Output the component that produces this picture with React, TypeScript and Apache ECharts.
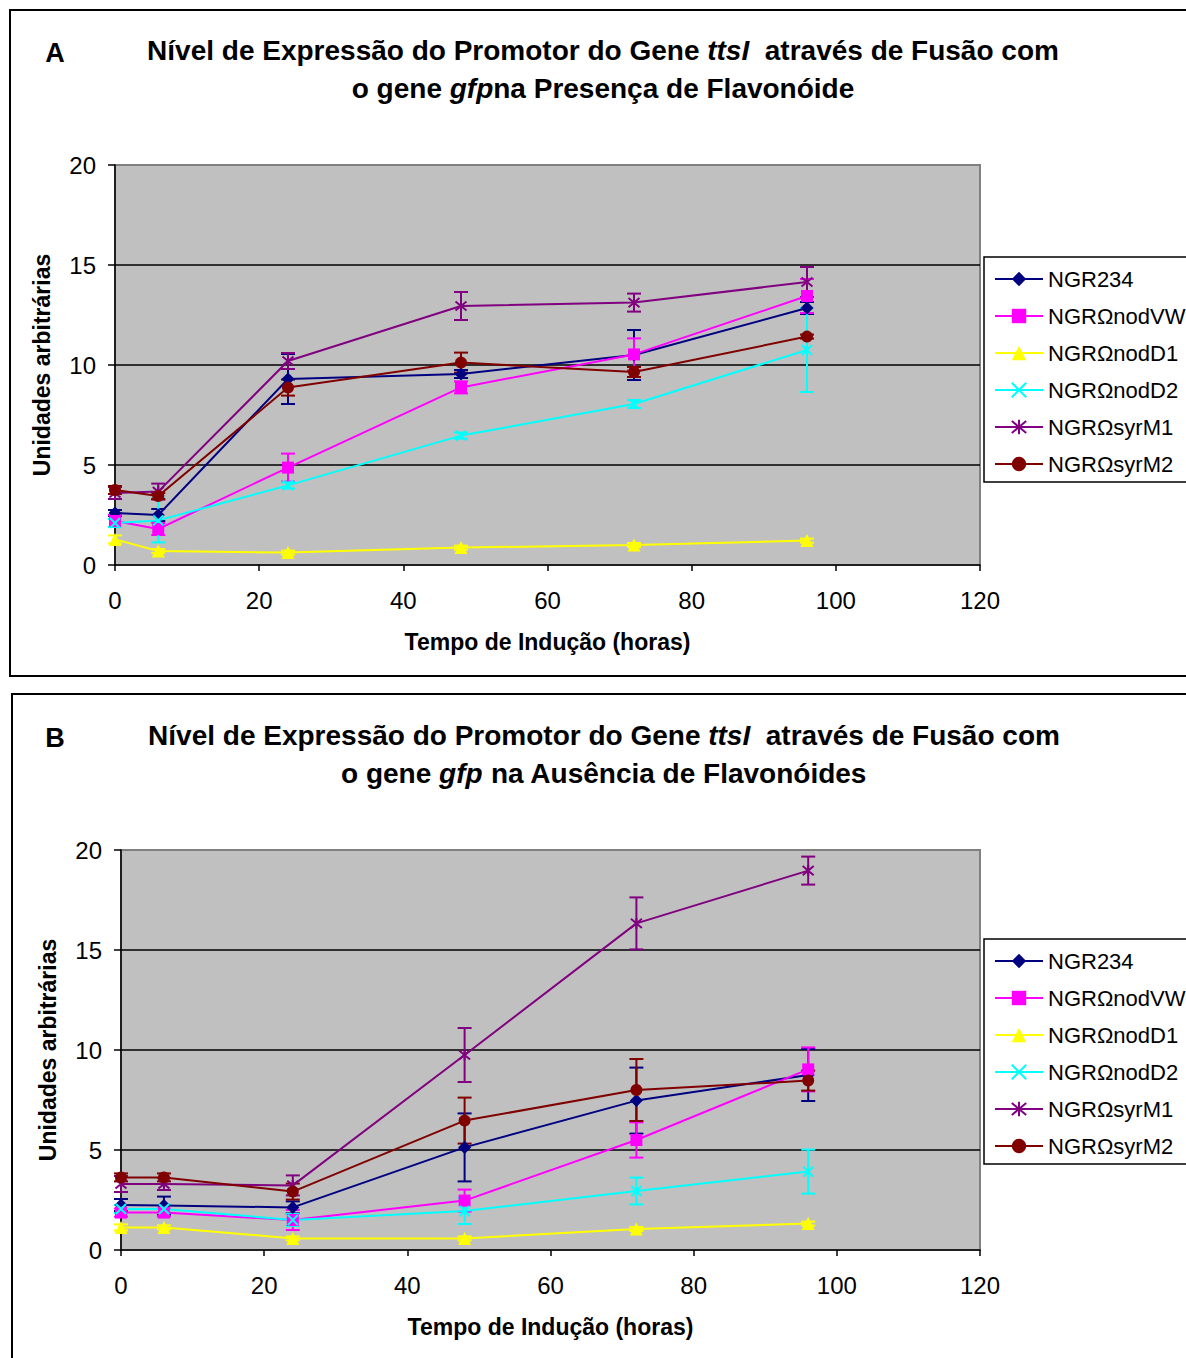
import React, { useEffect, useRef } from "react";
import * as echarts from "echarts";

const times = [0, 6, 24, 48, 72, 96];
const seriesNames = ["NGR234", "NGRΩnodVW", "NGRΩnodD1", "NGRΩnodD2", "NGRΩsyrM1", "NGRΩsyrM2"];

// Panel A (with flavonoid)
const a_ngr234 = [2.6, 2.5, 9.3, 9.55, 10.5, 12.85];
const a_nodVW = [2.2, 1.8, 4.87, 8.88, 10.53, 13.45];
const a_nodD1 = [1.28, 0.7, 0.62, 0.87, 1.0, 1.22];
const a_nodD2 = [2.1, 2.23, 3.98, 6.47, 8.05, 10.75];
const a_syrM1 = [3.6, 3.67, 10.2, 12.95, 13.12, 14.15];
const a_syrM2 = [3.75, 3.45, 8.87, 10.12, 9.65, 11.42];
const a_err_ngr234 = [0.15, 0.3, 1.25, 0.2, 1.25, 0.3];
const a_err_nodVW = [0.3, 0.3, 0.7, 0.3, 0.8, 0.85];
const a_err_nodD1 = [0.2, 0.1, 0.1, 0.1, 0.1, 0.1];
const a_err_nodD2 = [0.2, 1.1, 0.15, 0.15, 0.2, 2.1];
const a_err_syrM1 = [0.3, 0.4, 0.4, 0.7, 0.45, 0.75];
const a_err_syrM2 = [0.2, 0.15, 0.4, 0.5, 0.25, 0.1];

// Panel B (without flavonoid)
const b_ngr234 = [2.25, 2.22, 2.13, 5.13, 7.47, 8.75];
const b_nodVW = [1.87, 1.87, 1.5, 2.47, 5.5, 9.03];
const b_nodD1 = [1.13, 1.13, 0.58, 0.58, 1.05, 1.32];
const b_nodD2 = [2.05, 2.05, 1.5, 1.95, 2.95, 3.92];
const b_syrM1 = [3.3, 3.3, 3.23, 9.75, 16.33, 18.97];
const b_syrM2 = [3.63, 3.63, 2.92, 6.47, 8.0, 8.47];
const b_err_ngr234 = [0.3, 0.45, 0.3, 1.7, 1.65, 1.3];
const b_err_nodVW = [0.2, 0.2, 0.5, 0.55, 0.88, 1.1];
const b_err_nodD1 = [0.15, 0.1, 0.1, 0.1, 0.1, 0.1];
const b_err_nodD2 = [0.2, 0.2, 0.3, 0.65, 0.67, 1.1];
const b_err_syrM1 = [0.4, 0.3, 0.5, 1.35, 1.3, 0.7];
const b_err_syrM2 = [0.2, 0.2, 0.4, 1.15, 1.55, 0.5];

const xTicks = { min: 0, max: 120, interval: 20 };
const yTicks = { min: 0, max: 20, interval: 5 };

const colors = ["#000080", "#ff00ff", "#ffff00", "#00ffff", "#800080", "#800000"];
const symbols = [
  "diamond",
  "rect",
  "triangle",
  "path://M0,0L10,10M10,0L0,10",
  "path://M0,0L10,10M10,0L0,10M5,-1L5,11",
  "circle",
];
const symbolSizes = [13, 12, 13, 10, 11, 12];

const FONT = "'Liberation Sans', Arial, sans-serif";

export default function App() {
  const ref = useRef<HTMLDivElement>(null);

  useEffect(() => {
    if (!ref.current) return;
    const chart = echarts.init(ref.current, undefined, { renderer: "svg" });

    const panelA = [a_ngr234, a_nodVW, a_nodD1, a_nodD2, a_syrM1, a_syrM2];
    const panelAErr = [a_err_ngr234, a_err_nodVW, a_err_nodD1, a_err_nodD2, a_err_syrM1, a_err_syrM2];
    const panelB = [b_ngr234, b_nodVW, b_nodD1, b_nodD2, b_syrM1, b_syrM2];
    const panelBErr = [b_err_ngr234, b_err_nodVW, b_err_nodD1, b_err_nodD2, b_err_syrM1, b_err_syrM2];

    const series: any[] = [];
    const addPanel = (vals: number[][], errs: number[][], idx: number) => {
      vals.forEach((v, i) => {
        const color = colors[i];
        const isPath = symbols[i].startsWith("path://");
        series.push({
          type: "custom",
          xAxisIndex: idx,
          yAxisIndex: idx,
          z: 3,
          silent: true,
          encode: { x: 0, y: 1 },
          data: times.map((t, j) => [t, v[j], errs[i][j]]),
          renderItem: (params: any, api: any) => {
            const x = api.value(0);
            const y = api.value(1);
            const e = api.value(2);
            const hi = api.coord([x, y + e]);
            const lo = api.coord([x, y - e]);
            const cw = 7;
            const style = { stroke: color, lineWidth: 2, fill: "none" };
            return {
              type: "group",
              children: [
                { type: "line", shape: { x1: hi[0], y1: hi[1], x2: lo[0], y2: lo[1] }, style },
                { type: "line", shape: { x1: hi[0] - cw, y1: hi[1], x2: hi[0] + cw, y2: hi[1] }, style },
                { type: "line", shape: { x1: lo[0] - cw, y1: lo[1], x2: lo[0] + cw, y2: lo[1] }, style },
              ],
            };
          },
        });
        series.push({
          type: "line",
          name: seriesNames[i],
          xAxisIndex: idx,
          yAxisIndex: idx,
          z: 4,
          data: times.map((t, j) => [t, v[j]]),
          symbol: symbols[i],
          symbolSize: symbolSizes[i],
          showAllSymbol: true,
          lineStyle: { color, width: 2 },
          itemStyle: isPath
            ? { color, borderColor: color, borderWidth: 2 }
            : { color, borderColor: color, borderWidth: 0 },
        });
      });
    };
    addPanel(panelA, panelAErr, 0);
    addPanel(panelB, panelBErr, 1);

    const makeX = (idx: number) => ({
      type: "value",
      gridIndex: idx,
      min: xTicks.min,
      max: xTicks.max,
      interval: xTicks.interval,
      name: "Tempo de Indução (horas)",
      nameLocation: "middle",
      nameGap: 65,
      nameTextStyle: { fontFamily: FONT, fontSize: 23, fontWeight: "bold", color: "#000" },
      axisLine: { show: true, onZero: false, lineStyle: { color: "#000", width: 1.5 } },
      axisTick: { show: true, inside: false, length: 6, lineStyle: { color: "#000", width: 1.5 } },
      axisLabel: { fontFamily: FONT, fontSize: 24, color: "#000", margin: 23 },
      splitLine: { show: false },
    });
    const makeY = (idx: number) => ({
      type: "value",
      gridIndex: idx,
      min: yTicks.min,
      max: yTicks.max,
      interval: yTicks.interval,
      name: "Unidades arbitrárias",
      nameLocation: "middle",
      nameGap: 62,
      nameTextStyle: { fontFamily: FONT, fontSize: 23, fontWeight: "bold", color: "#000" },
      axisLine: { show: true, onZero: false, lineStyle: { color: "#000", width: 1.5 } },
      axisTick: { show: true, inside: false, length: 7, lineStyle: { color: "#000", width: 1.5 } },
      axisLabel: { fontFamily: FONT, fontSize: 24, color: "#000", margin: 19 },
      splitLine: { show: true, showMinLine: false, showMaxLine: false, lineStyle: { color: "#000", width: 1.5 } },
    });

    const makeLegend = (top: number) => ({
      orient: "vertical",
      left: 984,
      top,
      data: seriesNames,
      itemWidth: 48,
      itemHeight: 18,
      itemGap: 15,
      padding: [11, 10, 7, 10],
      backgroundColor: "#fff",
      borderColor: "#000",
      borderWidth: 1.5,
      borderRadius: 0,
      selectedMode: false,
      textStyle: { fontFamily: FONT, fontSize: 22, color: "#000" },
    });

    const titleText = (x: number, y: number, parts: [string, string][]) => ({
      type: "text",
      x,
      y,
      style: {
        text: parts.map(([k, s]) => `{${k}|${s}}`).join(""),
        align: "center",
        verticalAlign: "middle",
        rich: {
          b: { fontFamily: FONT, fontSize: 28, fontWeight: "bold", fill: "#000" },
          bi: { fontFamily: FONT, fontSize: 28, fontWeight: "bold", fontStyle: "italic", fill: "#000" },
        },
      },
    });

    chart.setOption({
      animation: false,
      backgroundColor: "#fff",
      grid: [
        { left: 115, top: 165, width: 865, height: 400, show: true, backgroundColor: "#c0c0c0", borderColor: "#808080", borderWidth: 2 },
        { left: 121, top: 850, width: 859, height: 400, show: true, backgroundColor: "#c0c0c0", borderColor: "#808080", borderWidth: 2 },
      ],
      xAxis: [makeX(0), makeX(1)],
      yAxis: [makeY(0), makeY(1)],
      legend: [makeLegend(257), makeLegend(939)],
      series,
      graphic: [
        { type: "rect", shape: { x: 10, y: 10, width: 1260, height: 666 }, style: { fill: "none", stroke: "#000", lineWidth: 2 } },
        { type: "rect", shape: { x: 12, y: 694, width: 1260, height: 700 }, style: { fill: "none", stroke: "#000", lineWidth: 2 } },
        { type: "text", x: 55, y: 53, style: { text: "A", align: "center", verticalAlign: "middle", fontFamily: FONT, fontSize: 27, fontWeight: "bold", fill: "#000" } },
        { type: "text", x: 55, y: 738, style: { text: "B", align: "center", verticalAlign: "middle", fontFamily: FONT, fontSize: 27, fontWeight: "bold", fill: "#000" } },
        titleText(603, 50, [["b", "Nível de Expressão do Promotor do Gene "], ["bi", "ttsI"], ["b", "  através de Fusão com"]]),
        titleText(603, 88, [["b", "o gene "], ["bi", "gfp"], ["b", "na Presença de Flavonóide"]]),
        titleText(604, 735, [["b", "Nível de Expressão do Promotor do Gene "], ["bi", "ttsI"], ["b", "  através de Fusão com"]]),
        titleText(604, 773, [["b", "o gene "], ["bi", "gfp"], ["b", " na Ausência de Flavonóides"]]),
      ],
    });

    return () => chart.dispose();
  }, []);

  return (
    <div style={{ position: "absolute", left: 0, top: 0, width: 1186, height: 1358, overflow: "hidden", background: "#fff" }}>
      <div ref={ref} style={{ width: 1300, height: 1358 }} />
    </div>
  );
}
